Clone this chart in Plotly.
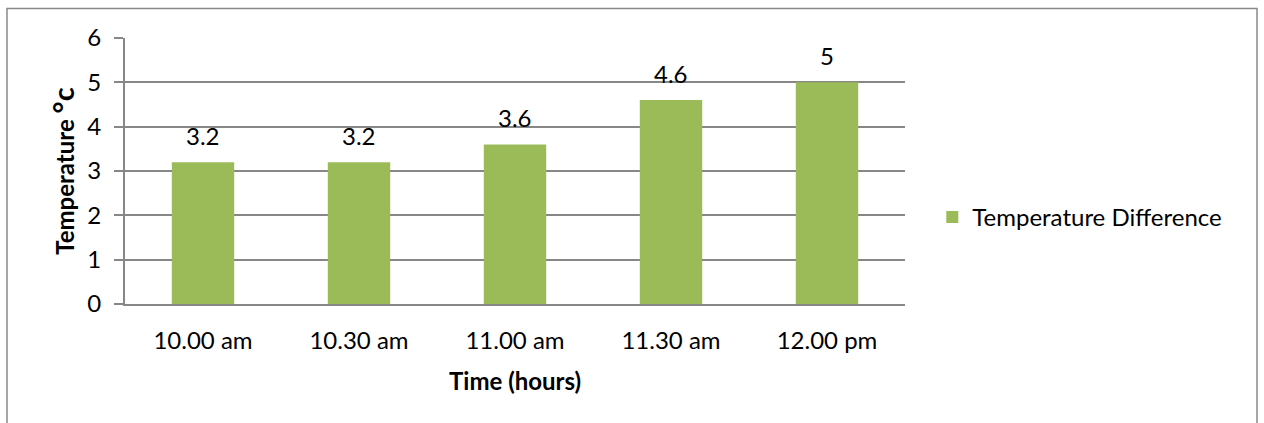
import plotly.graph_objects as go

# Temperature difference readings over the morning
times = ["10.00 am", "10.30 am", "11.00 am", "11.30 am", "12.00 pm"]
temp_diff = [3.2, 3.2, 3.6, 4.6, 5]
y_ticks = [0, 1, 2, 3, 4, 5, 6]

FONT = "Lato, Calibri, Carlito, sans-serif"
FS = 24
GREEN = "#9BBB59"
GRID = "#878787"

fig = go.Figure()
fig.add_trace(go.Bar(
    x=times,
    y=temp_diff,
    name="Temperature Difference",
    marker=dict(color=GREEN, line=dict(width=0)),
))

# value labels above each bar
for t, v in zip(times, temp_diff):
    fig.add_annotation(
        x=t, y=v, text=f"{v:g}", showarrow=False,
        yanchor="bottom", yshift=10,
        font=dict(family=FONT, size=FS, color="#000000"),
    )

# axis titles
fig.add_annotation(
    xref="paper", yref="paper", x=0.5, y=-0.287,
    xanchor="center", yanchor="middle",
    text="<b>Time (hours)</b>", showarrow=False,
    font=dict(family=FONT, size=FS, color="#000000"),
)
fig.add_annotation(
    xref="paper", yref="paper", x=-0.081, y=0.5,
    xanchor="center", yanchor="middle",
    text="<b>Temperature <span style='font-size:29px'>°c</span></b>",
    textangle=-90, showarrow=False,
    font=dict(family=FONT, size=FS, color="#000000"),
)

# chart border
fig.add_shape(
    type="rect", xref="paper", yref="paper",
    x0=-0.1513, x1=1.4513, y0=-0.5, y1=1.111,
    line=dict(color="#898989", width=1.5), fillcolor="rgba(0,0,0,0)",
    layer="below",
)

fig.update_layout(
    width=1264, height=423,
    margin=dict(l=125, r=359, t=38, b=119),
    paper_bgcolor="white", plot_bgcolor="white",
    bargap=0.6,
    font=dict(family=FONT, size=FS, color="#000000"),
    showlegend=True,
    legend=dict(
        x=1.035, y=0.326, xanchor="left", yanchor="middle",
        font=dict(family=FONT, size=FS, color="#000000"),
        itemwidth=30,
    ),
    xaxis=dict(
        showgrid=False, showline=True, linecolor=GRID, linewidth=2,
        ticks="", tickfont=dict(family=FONT, size=FS),
        ticklabelstandoff=14,
    ),
    yaxis=dict(
        range=[0, 6], tickvals=y_ticks, showgrid=True, gridcolor=GRID,
        gridwidth=1.5, showline=True, linecolor=GRID, linewidth=2,
        ticks="outside", ticklen=9, tickcolor=GRID, tickwidth=2,
        zeroline=False, tickfont=dict(family=FONT, size=FS),
        ticklabelstandoff=8,
    ),
)

fig.write_html("out.html")
